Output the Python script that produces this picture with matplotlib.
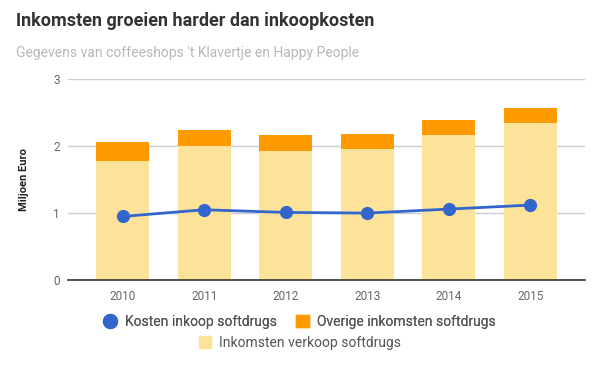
import matplotlib
matplotlib.use("Agg")
import matplotlib.pyplot as plt
from matplotlib.lines import Line2D
from matplotlib.patches import Patch
import numpy as np

plt.rcParams['font.family'] = ['Roboto', 'DejaVu Sans']

years = ["2010", "2011", "2012", "2013", "2014", "2015"]
inkomsten_verkoop = [1.78, 2.00, 1.935, 1.96, 2.17, 2.35]
overige_inkomsten = [0.285, 0.245, 0.235, 0.22, 0.22, 0.22]
kosten_inkoop = [0.95, 1.05, 1.01, 1.00, 1.06, 1.12]

c_light = "#fde399"
c_orange = "#ff9900"
c_blue = "#3366cc"

fig = plt.figure(figsize=(6, 3.71), dpi=100)
ax = fig.add_axes([68/600, 1-280/371, (585-68)/600, (280-79.3)/371])

x = np.arange(len(years))
w = 0.65
ax.bar(x, inkomsten_verkoop, w, color=c_light, zorder=2)
ax.bar(x, overige_inkomsten, w, bottom=inkomsten_verkoop, color=c_orange, zorder=2)
ax.plot(x, kosten_inkoop, color=c_blue, lw=2, marker='o', ms=8.5, zorder=4)

ax.set_xlim(-0.67, 5.67)
ax.set_ylim(0, 3)
ax.set_yticks([0, 1, 2, 3])
ax.set_xticks(x)
ax.set_xticklabels(years)
ax.grid(axis='y', color='#cccccc', lw=1, zorder=0)
ax.set_axisbelow(True)
for s in ['top', 'right', 'left']:
    ax.spines[s].set_visible(False)
ax.spines['bottom'].set_color('#333333')
ax.spines['bottom'].set_linewidth(1.2)
ax.spines['bottom'].set_zorder(5)
ax.tick_params(axis='both', length=0, labelsize=8.5, labelcolor='#666666')
ax.tick_params(axis='y', pad=6)
ax.tick_params(axis='x', pad=7)
ax.set_ylabel("Miljoen Euro", fontsize=8, fontweight='bold', color='#222222', labelpad=17)

fig.text(16/600, 1-21/371, "Inkomsten groeien harder dan inkoopkosten", fontsize=13,
         fontweight='bold', color='#333333', va='center', ha='left')
fig.text(16/600, 1-53/371, "Gegevens van coffeeshops 't Klavertje en Happy People", fontsize=10,
         color='#b7b7b7', va='center', ha='left')

h1 = Line2D([], [], color=c_blue, marker='o', ls='none', ms=10)
h2 = Patch(color=c_orange)
h3 = Patch(color=c_light)
leg1 = fig.legend([h1, h2], ["Kosten inkoop softdrugs", "Overige inkomsten softdrugs"],
                  loc='center', bbox_to_anchor=(0.5, 1-322/371), ncol=2, frameon=False,
                  fontsize=10, labelcolor='#555555', handlelength=0.9, handleheight=0.9,
                  handletextpad=0.6, columnspacing=1.4)
leg2 = fig.legend([h3], ["Inkomsten verkoop softdrugs"],
                  loc='center', bbox_to_anchor=(0.5, 1-343/371), ncol=1, frameon=False,
                  fontsize=10, labelcolor='#555555', handlelength=0.9, handleheight=0.9,
                  handletextpad=0.6)
fig.add_artist(leg1)

fig.savefig("out.png", dpi=100)
